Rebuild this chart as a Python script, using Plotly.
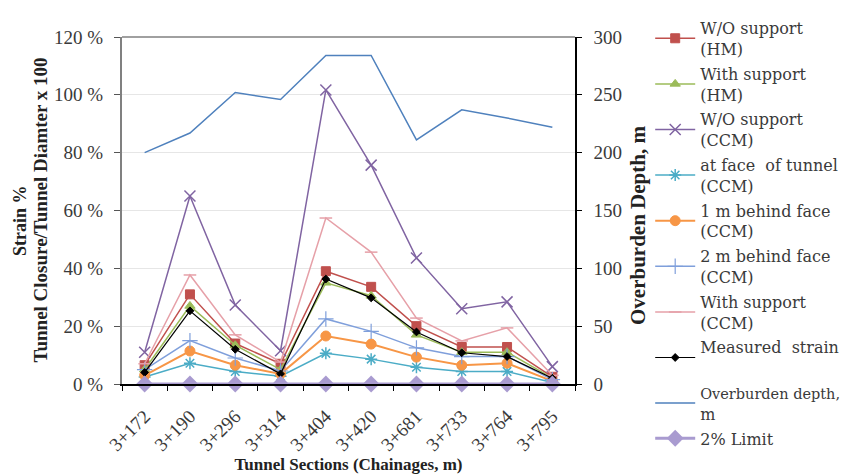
import plotly.graph_objects as go

chainages = ["3+172", "3+190", "3+296", "3+314", "3+404", "3+420", "3+681", "3+733", "3+764", "3+795"]

wo_support_hm = [6.5, 31, 14, 7, 39, 33.6, 20, 12.8, 12.8, 2.5]
with_support_hm = [5, 27, 13.4, 5, 35, 30.5, 17, 11, 11, 2]
wo_support_ccm = [11, 65, 27.3, 11.5, 101.7, 75.7, 43.6, 26, 28.4, 6]
at_face_ccm = [2.4, 7.2, 4.3, 2.7, 10.6, 8.6, 5.8, 4.3, 4.3, 0.5]
one_m_behind_ccm = [3, 11.4, 6.5, 3.5, 16.6, 13.8, 9.3, 6.5, 7.2, 1]
two_m_behind_ccm = [5, 15, 9, 4.5, 22.5, 18.2, 12.5, 9.5, 9.5, 1.5]
with_support_ccm = [7, 37.7, 17, 7.6, 57.4, 45.6, 22.8, 14.9, 19.4, 3]
measured_strain = [4, 25.3, 12, 3.5, 36.3, 29.8, 18, 10.8, 9.5, 2]
overburden_depth = [200, 217, 252, 246, 284, 284, 211, 237, 230, 222]
limit_2pct = [0, 0, 0, 0, 0, 0, 0, 0, 0, 0]

left_ticks = [0, 20, 40, 60, 80, 100, 120]
left_tick_text = [f"{v} %" for v in left_ticks]
right_ticks = [0, 50, 100, 150, 200, 250, 300]

SERIF = "Liberation Serif"
WIDE = "DejaVu Serif"
TXT = "#3a3a3a"

# page body adds an 8px offset; plot area is placed so it lands at 122..575 x 37..384
L, T, PW, PH = 114, 29, 453, 347

fig = go.Figure()
_grp = [0]

def add(name, y, color, symbol, size, width=1.5, lw=None):
    _grp[0] += 1
    fig.add_trace(go.Scatter(
        x=chainages, y=y, name=name, mode="lines+markers", legendgroup=f"g{_grp[0]}",
        line=dict(color=color, width=width),
        marker=dict(symbol=symbol, size=size, color=color,
                    line=dict(color=color, width=lw if lw is not None else 1)),
    ))

add("W/O support<br>(HM)", wo_support_hm, "#C0504D", "square", 9)
add("With support<br>(HM)", with_support_hm, "#9BBB59", "triangle-up", 9)
add("W/O support<br>(CCM)", wo_support_ccm, "#8064A2", "x-thin-open", 11, width=1.5, lw=1.5)
add("at face  of tunnel<br>(CCM)", at_face_ccm, "#4BACC6", "asterisk-open", 10, width=1.5, lw=1.5)
add("1 m behind face<br>(CCM)", one_m_behind_ccm, "#F79646", "circle", 10, width=2)
add("2 m behind face<br>(CCM)", two_m_behind_ccm, "#7F9FDB", "cross-thin-open", 11, width=1.5, lw=1.2)
add("With support<br>(CCM)", with_support_ccm, "#E6A0A8", "line-ew-open", 9, width=1.5, lw=1.5)
add("Measured  strain<br> ", measured_strain, "#000000", "diamond", 6, width=1.2)

fig.add_trace(go.Scatter(
    x=chainages, y=overburden_depth, legendgroup="g9",
    name='<span style="font-size:14.5px">Overburden depth,</span><br>m', mode="lines",
    line=dict(color="#4F81BD", width=1.5), yaxis="y2",
))
fig.add_trace(go.Scatter(
    x=chainages, y=limit_2pct, name="2% Limit", mode="lines+markers", legendgroup="g10",
    line=dict(color="#A99BD0", width=3),
    marker=dict(symbol="diamond", size=13, color="#A99BD0"),
    cliponaxis=False,
))

fig.update_layout(
    width=850, height=475,
    margin=dict(l=L, r=850 - L - PW, t=T, b=475 - T - PH, autoexpand=False),
    paper_bgcolor="white", plot_bgcolor="white",
    font=dict(family=SERIF, size=15, color=TXT),
    showlegend=True,
    legend=dict(x=1.166, y=1.075, xanchor="left", yanchor="top",
                font=dict(family=WIDE, size=16, color=TXT),
                tracegroupgap=1, itemwidth=40, traceorder="grouped",
                maxheight=475,
                bgcolor="rgba(0,0,0,0)"),
    xaxis=dict(
        type="category", range=[-0.5, 9.5],
        tickangle=-45, tickson="boundaries", ticks="outside", ticklen=5,
        tickcolor="#000000",
        showline=True, linecolor="#000000", linewidth=1.5,
        showgrid=False, zeroline=False, automargin=False,
        tickfont=dict(family=SERIF, size=19, color=TXT),
        ticklabelstandoff=12,
        title=dict(text="<b>Tunnel Sections (Chainages, m)</b>",
                   font=dict(family=SERIF, size=17, color="#222222"), standoff=0),
    ),
    yaxis=dict(
        range=[0, 120], tickvals=left_ticks, ticktext=left_tick_text,
        ticks="outside", ticklen=6, tickcolor="#555555",
        showline=True, linecolor="#808080", linewidth=2,
        showgrid=True, gridcolor="#E6E6E6", gridwidth=1, zeroline=False,
        automargin=False,
        tickfont=dict(family=SERIF, size=19, color=TXT),
        ticklabelstandoff=7,
    ),
    yaxis2=dict(
        range=[0, 300], tickvals=right_ticks, overlaying="y", side="right",
        ticks="outside", ticklen=5, tickcolor="#000000",
        showline=True, linecolor="#000000", linewidth=1.5,
        showgrid=False, zeroline=False, automargin=False,
        tickfont=dict(family=SERIF, size=19, color=TXT),
        ticklabelstandoff=8,
    ),
    shapes=[dict(type="line", xref="paper", yref="paper", x0=0, x1=1, y0=1, y1=1,
                 line=dict(color="#808080", width=1.5))],
    annotations=[
        dict(text="<b>Strain %</b>", textangle=-90, xref="paper", yref="paper",
             x=(20 - 122) / PW, y=0.47, showarrow=False, xanchor="center", yanchor="middle",
             font=dict(family=SERIF, size=18, color="#222222")),
        dict(text="<b>Tunnel Closure/Tunnel Diamter x 100</b>", textangle=-90,
             xref="paper", yref="paper",
             x=(40 - 122) / PW, y=0.5, showarrow=False, xanchor="center", yanchor="middle",
             font=dict(family=SERIF, size=19, color="#222222")),
        dict(text="<b>Overburden Depth, m</b>", textangle=-90, xref="paper", yref="paper",
             x=(638 - 122) / PW, y=(384 - 226) / PH, showarrow=False,
             xanchor="center", yanchor="middle",
             font=dict(family=SERIF, size=21, color="#222222")),
    ],
)

fig.write_html("out.html")
